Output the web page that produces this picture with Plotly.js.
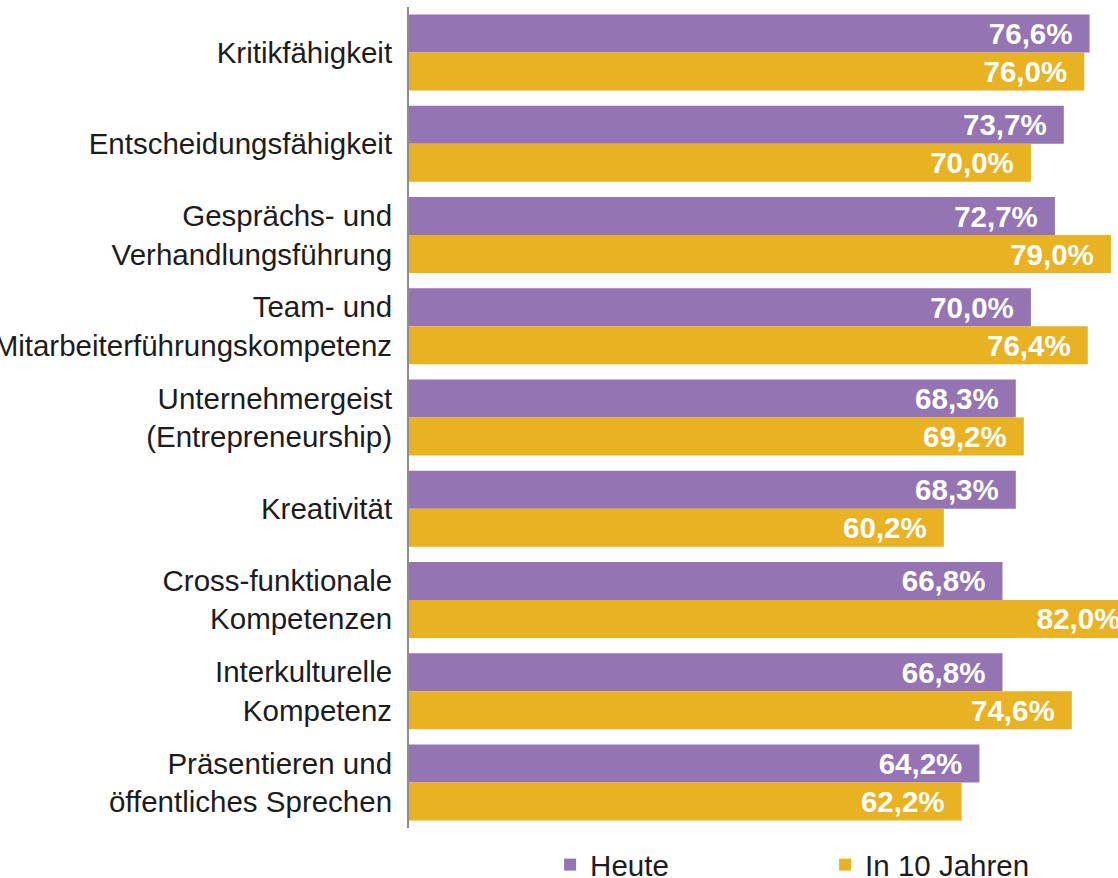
<!DOCTYPE html>
<html>
<head>
<meta charset="utf-8">
<script src="https://cdn.plot.ly/plotly-3.0.1.min.js"></script>
<style>
  html, body { margin: 0; padding: 0; background: #ffffff; }
  #chart { width: 1118px; height: 878px; }
</style>
</head>
<body>
<div id="chart"></div>
<script>
const categories = [
  "Kritikfähigkeit",
  "Entscheidungsfähigkeit",
  "Gesprächs- und<br>Verhandlungsführung",
  "Team- und<br>Mitarbeiterführungskompetenz",
  "Unternehmergeist<br>(Entrepreneurship)",
  "Kreativität",
  "Cross-funktionale<br>Kompetenzen",
  "Interkulturelle<br>Kompetenz",
  "Präsentieren und<br>öffentliches Sprechen"
];
const heute = [76.6, 73.7, 72.7, 70.0, 68.3, 68.3, 66.8, 66.8, 64.2];
const in10Jahren = [76.0, 70.0, 79.0, 76.4, 69.2, 60.2, 82.0, 74.6, 62.2];
const seriesNames = ["Heute", "In 10 Jahren"];
const colors = ["#9474B2", "#E8B222"];

const fmt = v => v.toFixed(1).replace('.', ',') + '%\u00a0\u2009';
const FONT = 'Liberation Sans, Arial, sans-serif';
const FS = 29.5;

function barTrace(name, values, color) {
  return {
    type: 'bar',
    orientation: 'h',
    name: name,
    y: categories,
    x: values,
    marker: { color: color, line: { width: 0 } },
    text: values.map(fmt),
    textposition: 'inside',
    insidetextanchor: 'end',
    constraintext: 'none',
    textfont: { family: FONT, size: FS, color: '#ffffff', weight: 'bold' },
    hoverinfo: 'skip'
  };
}

const data = [
  barTrace(seriesNames[0], heute, colors[0]),
  barTrace(seriesNames[1], in10Jahren, colors[1])
];

const layout = {
  width: 1118,
  height: 878,
  margin: { l: 409, r: 0, t: 7, b: 50, pad: 0, autoexpand: false },
  paper_bgcolor: '#ffffff',
  plot_bgcolor: '#ffffff',
  barmode: 'group',
  bargap: 0.167,
  bargroupgap: 0,
  font: { family: FONT, size: FS, color: '#1c1c1c' },
  xaxis: {
    range: [0, 79.8],
    showgrid: false,
    zeroline: false,
    showline: false,
    showticklabels: false,
    ticks: '',
    fixedrange: true
  },
  yaxis: {
    autorange: 'reversed',
    showgrid: false,
    zeroline: false,
    showline: true,
    linecolor: '#8c8c8c',
    linewidth: 2,
    ticks: '',
    ticklabelstandoff: 9,
    tickfont: { family: FONT, size: FS, color: '#1c1c1c' },
    automargin: false,
    fixedrange: true
  },
  showlegend: true,
  legend: {
    orientation: 'h',
    x: 0.199,
    xanchor: 'left',
    y: -0.045,
    yanchor: 'middle',
    font: { family: FONT, size: FS, color: '#1c1c1c' },
    itemwidth: 30,
    entrywidth: 230,
    entrywidthmode: 'pixels',
    bgcolor: 'rgba(0,0,0,0)',
    borderwidth: 0,
    traceorder: 'normal'
  }
};

Plotly.newPlot('chart', data, layout, { displayModeBar: false, staticPlot: true });
</script>
</body>
</html>
